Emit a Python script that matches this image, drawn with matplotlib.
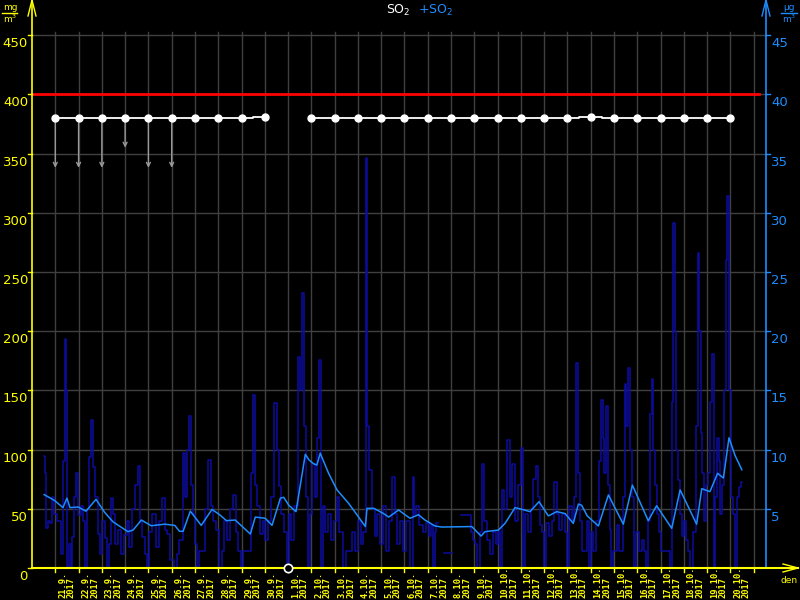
import matplotlib
matplotlib.use("Agg")
import matplotlib.pyplot as plt
import numpy as np
from datetime import datetime, timedelta

# time axis: days since 20.9.2017 00:00
start = datetime(2017, 9, 20)

# hourly SO2 (dark blue)
dark_t = [0.52, 0.58, 0.64, 0.73, 0.82, 0.90, 1.03, 1.16, 1.29, 1.37, 1.45, 1.48, 1.55, 1.63, 1.70,
          1.76, 1.85, 1.93, 2.02, 2.15, 2.23, 2.32, 2.41, 2.49, 2.59, 2.66, 2.75, 2.88, 2.96, 3.09,
          3.18, 3.26, 3.35, 3.44, 3.52, 3.61, 3.74, 3.87, 4.00, 4.12, 4.25, 4.38, 4.51, 4.60, 4.68,
          4.77, 4.90, 4.98, 5.11, 5.24, 5.37, 5.50, 5.63, 5.76, 5.88, 6.01, 6.17, 6.27, 6.40, 6.53,
          6.62, 6.70, 6.79, 6.87, 6.96, 7.04, 7.13, 7.22, 7.35, 7.47, 7.63, 7.73, 7.86, 7.99, 8.10,
          8.20, 8.29, 8.42, 8.55, 8.70, 8.81, 8.93, 9.02, 9.11, 9.28, 9.36, 9.45, 9.52, 9.60, 9.71,
          9.84, 9.97, 10.09, 10.22, 10.35, 10.48, 10.57, 10.65, 10.78, 10.91, 11.00, 11.08, 11.21,
          11.34, 11.48, 11.55, 11.65, 11.73, 11.81, 11.91, 11.98, 12.07, 12.20, 12.29, 12.37, 12.46,
          12.54, 12.67, 12.76, 12.89, 13.02, 13.14, 13.27, 13.42, 13.53, 13.66, 13.79, 13.92, 14.05,
          14.18, 14.29, 14.38, 14.43, 14.52, 14.65, 14.78, 14.90, 15.03, 15.16, 15.29, 15.38, 15.51,
          15.64, 15.76, 15.89, 16.02, 16.15, 16.31, 16.38, 16.45, 16.58, 16.71, 16.84, 16.97, 17.10,
          17.18, 17.28, 17.35, 17.40, 17.45, 17.96, 18.00, 18.05, 18.81, 18.90, 18.99, 19.07, 19.20,
          19.29, 19.39, 19.46, 19.59, 19.72, 19.85, 19.97, 20.06, 20.15, 20.23, 20.32, 20.46, 20.58,
          20.70, 20.83, 20.96, 21.06, 21.10, 21.22, 21.35, 21.48, 21.58, 21.68, 21.78, 21.86, 21.95,
          22.04, 22.16, 22.29, 22.38, 22.49, 22.59, 22.72, 22.85, 22.94, 23.01, 23.11, 23.24, 23.32,
          23.42, 23.50, 23.58, 23.67, 23.80, 23.88, 23.97, 24.05, 24.18, 24.31, 24.40, 24.47, 24.55,
          24.61, 24.71, 24.78, 24.85, 24.91, 24.98, 25.11, 25.19, 25.27, 25.36, 25.44, 25.49, 25.57,
          25.66, 25.74, 25.83, 25.90, 26.00, 26.12, 26.25, 26.31, 26.40, 26.53, 26.59, 26.67, 26.72,
          26.80, 26.89, 26.98, 27.06, 27.19, 27.32, 27.45, 27.51, 27.58, 27.64, 27.71, 27.79, 27.88,
          27.96, 28.05, 28.14, 28.22, 28.34, 28.41, 28.52, 28.56, 28.62, 28.69, 28.76, 28.82, 28.91,
          28.99, 29.08, 29.17, 29.24, 29.31, 29.38, 29.47, 29.53, 29.60, 29.68, 29.77, 29.83, 29.91,
          29.98, 30.07, 30.16, 30.27, 30.33, 30.41, 30.50]
dark_v = [95, 80, 34, 40, 38, 60, 46, 40, 12, 90, 193, 150, 0, 20, 0,
          26, 60, 80, 45, 52, 40, 0, 50, 94, 125, 85, 60, 29, 12, 40,
          25, 0, 20, 59, 46, 20, 32, 12, 28, 40, 18, 50, 70, 86, 40,
          26, 12, 0, 30, 46, 18, 40, 59, 32, 29, 7, 0, 12, 24, 97,
          60, 100, 128, 70, 46, 20, 0, 14, 14, 50, 91, 52, 40, 32, 0,
          14, 40, 24, 50, 62, 30, 14, 0, 14, 14, 14, 80, 146, 70, 52,
          29, 40, 24, 40, 60, 139, 100, 69, 46, 30, 0, 46, 24,
          52, 178, 150, 232, 120, 60, 0, 46, 88, 60, 110, 176, 0,
          52, 30, 46, 24, 40, 60, 30, 0, 14, 14, 30, 14, 40,
          20, 30, 346, 120, 83, 50, 27, 46, 20, 52, 14, 40, 77,
          46, 20, 40, 14, 40, 0, 77, 46, 52, 36, 30, 38, 27,
          36, 0, 30, 38, np.nan, 13, 13, np.nan, 45, 30, 24, 20, 0,
          30, 88, 40, 24, 12, 30, 20, 30, 0, 66, 50, 108, 60,
          88, 40, 70, 101, 0, 46, 30, 50, 75, 86, 60, 36, 30,
          0, 38, 27, 40, 73, 46, 32, 46, 30, 0, 52, 40, 60,
          173, 80, 40, 14, 14, 40, 0, 30, 14, 40, 90, 142, 110,
          80, 137, 70, 32, 0, 14, 14, 36, 14, 14, 60, 155, 120,
          169, 100, 60, 0, 30, 14, 24, 14, 0, 40, 130, 160, 100,
          70, 46, 30, 14, 14, 14, 0, 140, 291, 200, 100, 74, 46,
          27, 40, 24, 14, 0, 30, 30, 120, 266, 200, 114, 80, 40,
          70, 80, 140, 181, 0, 60, 110, 90, 46, 70, 150, 260, 314,
          150, 60, 46, 0, 60, 68, 73]

# smoothed SO2 (light blue)
smooth_t = [0.52, 0.97, 1.33, 1.50, 1.63, 1.98, 2.32, 2.75, 3.12, 3.48, 4.12, 4.34, 4.70, 5.12,
            5.70, 6.13, 6.34, 6.49, 6.80, 7.27, 7.73, 8.06, 8.35, 8.73, 9.38, 9.59, 10.02, 10.31,
            10.67, 10.81, 11.03, 11.34, 11.74, 11.91, 12.10, 12.24, 12.38, 12.74, 13.10, 13.60,
            14.03, 14.32, 14.39, 14.68, 15.10, 15.32, 15.75, 16.02, 16.24, 16.60, 16.88, 17.31,
            17.60, 18.89, 19.29, 19.46, 20.03, 20.32, 20.75, 21.03, 21.39, 21.78, 22.18, 22.54,
            22.90, 23.25, 23.47, 23.61, 23.85, 24.33, 24.76, 25.40, 25.79, 26.47, 26.83, 27.48,
            27.84, 28.55, 28.77, 29.12, 29.45, 29.70, 29.94, 30.20, 30.49]
smooth_v = [62, 57, 51, 59, 51, 51.5, 48, 58, 47, 39, 30.7, 32, 40.5, 35.7,
            37, 36, 31, 31, 48, 36, 49.5, 45, 40, 40.5, 28.7, 43, 42, 36,
            59, 59.7, 53, 47.6, 96, 91, 88, 87, 97, 80, 66, 54.6,
            43, 35, 50.4, 50.4, 46, 43, 49, 45, 42, 45, 40.5, 35.5,
            34.6, 35, 27, 30.7, 32, 37.7, 51, 49.6, 47.6, 56, 44, 47.6,
            46, 37.7, 54, 53, 44, 35.5, 61.7, 37, 70, 40, 52.6, 33.5,
            66, 37, 67, 64.5, 80, 76, 110, 95, 83]

# daily markers near the top (white dots)
dot_days = [1, 2, 3, 4, 5, 6, 7, 8, 9, 10]
dot_vals = [380, 380, 380, 380, 380, 380, 380, 380, 380, 381]
dot2_days = list(range(12, 31))
dot2_vals = [380] * 12 + [381] + [380] * 6
arrow_days = [1, 2, 3, 4, 5, 6]
arrow_to = [338, 338, 338, 355, 338, 338]

limit = 400
left_ticks = list(range(0, 451, 50))
right_labels = list(range(5, 46, 5))

YEL = "#ffff00"
BLU = "#1e8cff"
GRID = "#404040"

PX_DAY = 23.28
PX_UNIT = 1.184

fig = plt.figure(figsize=(8, 6), dpi=100, facecolor="black")
ax = fig.add_axes([32 / 800, 32 / 600, 768 / 800, 568 / 600])
ax.set_facecolor("black")
xmax = 768 / PX_DAY
ymax = 568 / PX_UNIT
ax.set_xlim(0, xmax)
ax.set_ylim(0, ymax)
ax.axis("off")

t_right = 734 / PX_DAY

# grid
for v in left_ticks[1:]:
    ax.plot([0, t_right], [v, v], color=GRID, lw=1, zorder=1)
for d in range(1, 32):
    ax.plot([d, d], [0, 452.7], color=GRID, lw=1, zorder=1)

# data
ax.plot(dark_t, dark_v, color="#0c0ca0", lw=1.1, drawstyle="steps-mid", zorder=2)
ax.plot(smooth_t, smooth_v, color=BLU, lw=1.1, zorder=3)

# limit line
ax.plot([0, 727 / PX_DAY], [limit, limit], color="#ff0000", lw=2, zorder=4)

# daily dots with arrows
for d, a in zip(arrow_days, arrow_to):
    ax.annotate("", xy=(d, a), xytext=(d, 380), zorder=4,
                arrowprops=dict(arrowstyle="->", color="#9a9a9a", lw=1,
                                shrinkA=0, shrinkB=0, mutation_scale=7))
ax.plot(dot_days, dot_vals, color="white", lw=1.3, drawstyle="steps-mid", zorder=5)
ax.plot(dot2_days, dot2_vals, color="white", lw=1.3, drawstyle="steps-mid", zorder=5)
ax.plot(dot_days, dot_vals, "o", color="white", ms=5, zorder=6)
ax.plot(dot2_days, dot2_vals, "o", color="white", ms=5, zorder=6)

# left axis
ax.plot([0, 0], [0, ymax], color=YEL, lw=1.2, clip_on=False, zorder=7)
ax.plot([-4 / PX_DAY, 0, 4 / PX_DAY], [ymax - 16 / PX_UNIT, ymax, ymax - 16 / PX_UNIT],
        color=YEL, lw=1, clip_on=False, zorder=7)
for v in left_ticks:
    ax.plot([-4 / PX_DAY, 0], [v, v], color=YEL, lw=1, clip_on=False, zorder=7)
    ax.annotate(str(v), xy=(0, v), xytext=(-4, -2), textcoords="offset pixels",
                ha="right", va="top", color=YEL, fontsize=9.5, annotation_clip=False)

# right axis
ax.plot([t_right, t_right], [0, ymax], color=BLU, lw=1.2, clip_on=False, zorder=7)
ax.plot([t_right - 4 / PX_DAY, t_right, t_right + 4 / PX_DAY],
        [ymax - 16 / PX_UNIT, ymax, ymax - 16 / PX_UNIT], color=BLU, lw=1, zorder=7)
for r in right_labels:
    v = r * 10
    ax.plot([t_right, t_right + 4 / PX_DAY], [v, v], color=BLU, lw=1, zorder=7)
    ax.annotate(str(r), xy=(t_right, v), xytext=(5, -2), textcoords="offset pixels",
                ha="left", va="top", color=BLU, fontsize=9.5, annotation_clip=False)

# bottom axis
xend = 766 / PX_DAY
ax.plot([0, xend], [0, 0], color=YEL, lw=1.5, clip_on=False, zorder=7)
ax.plot([xend - 15 / PX_DAY, xend, xend - 15 / PX_DAY],
        [4 / PX_UNIT, 0, -4 / PX_UNIT], color=YEL, lw=1, clip_on=False, zorder=7)
for d in range(1, 32):
    ax.plot([d, d], [0, -4 / PX_UNIT], color=YEL, lw=1, clip_on=False, zorder=7)
for i in range(1, 31):
    day = start + timedelta(days=i)
    ax.text(i + 0.5, -30 / PX_UNIT, f"{day.day}.{day.month}.\n2017", rotation=90,
            ha="center", va="bottom", multialignment="left", linespacing=0.95,
            color=YEL, fontsize=6.3, family="DejaVu Sans Mono", fontweight="bold",
            clip_on=False)
ax.text(xend - 9 / PX_DAY, -8 / PX_UNIT, "den", color=YEL, fontsize=6.5,
        ha="center", va="top", clip_on=False)
ax.plot([11], [0], "o", mfc="black", mec="white", ms=6, mew=1.2, clip_on=False, zorder=8)

# titles and units
fig.text(398 / 800, 1 - 10 / 600, "SO$_2$", color="white", fontsize=9, ha="center", va="center")
fig.text(435 / 800, 1 - 10 / 600, "+SO$_2$", color=BLU, fontsize=9, ha="center", va="center")
fig.text(10 / 800, 1 - 8 / 600, "mg", color=YEL, fontsize=6.5, ha="center", va="center")
fig.add_artist(plt.Line2D([2 / 800, 17 / 800], [1 - 13 / 600, 1 - 13 / 600], color=YEL, lw=1))
fig.text(10 / 800, 1 - 19 / 600, "m$^3$", color=YEL, fontsize=6.5, ha="center", va="center")
fig.text(789 / 800, 1 - 8 / 600, "µg", color=BLU, fontsize=6.5, ha="center", va="center")
fig.add_artist(plt.Line2D([781 / 800, 797 / 800], [1 - 13 / 600, 1 - 13 / 600], color=BLU, lw=1))
fig.text(789 / 800, 1 - 19 / 600, "m$^3$", color=BLU, fontsize=6.5, ha="center", va="center")

fig.savefig("out.png", dpi=100, facecolor="black")
